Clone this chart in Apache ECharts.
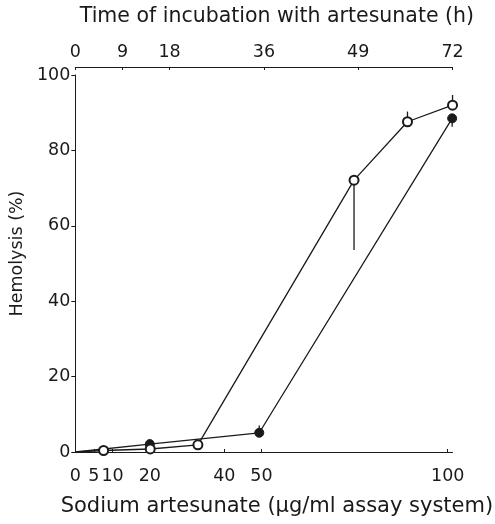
<!DOCTYPE html>
<html><head><meta charset="utf-8">
<script src="https://cdn.jsdelivr.net/npm/echarts@6/dist/echarts.min.js"></script>
<style>html,body{margin:0;padding:0;background:#fff}#c{width:495px;height:524px}</style>
</head><body><div id="c"></div>
<script>
// Bottom axis: sodium artesunate concentration (µg/ml)
var concTicks = [0, 5, 10, 20, 40, 50, 100];
// Top axis: time of incubation (h) — tick positions as drawn, with their printed labels
var timeTickValues = [0, 9, 18, 36, 54, 72];
var timeTickLabels = ['0', '9', '18', '36', '49', '72'];
var hemoTicks = [0, 20, 40, 60, 80, 100];

// Filled circles: hemolysis (%) vs concentration
var filledX = [0, 20, 49.4, 101.2];
var filledY = [0, 2.1, 5.1, 88.5];
// Open circles: hemolysis (%) vs incubation time
var openX = [0, 5.4, 14.3, 23.4, 53.2, 63.4, 72];
var openY = [0, 0.4, 0.8, 1.9, 72.1, 87.6, 92];
// Error bars [x, low, high]
var filledErr = [[49.4, 5.1, 7.0], [101.2, 86.3, 88.5]];
var openErr = [[53.2, 53.6, 72.1], [63.4, 87.6, 90.3], [72, 92, 94.7]];

var FONT = 'DejaVu Sans';
var ink = '#1a1a1a';

function pts(xs, ys) {
  return xs.map(function (x, i) {
    var d = { value: [x, ys[i]] };
    if (x === 0 && ys[i] === 0) d.symbol = 'none';
    return d;
  });
}
function errSeries(arr, axisIdx) {
  return {
    type: 'custom', xAxisIndex: axisIdx, z: 1, silent: true,
    data: arr,
    renderItem: function (params, api) {
      var a = api.coord([api.value(0), api.value(1)]);
      var b = api.coord([api.value(0), api.value(2)]);
      return { type: 'line', shape: { x1: a[0], y1: a[1], x2: b[0], y2: b[1] },
               style: { stroke: ink, lineWidth: 1.3 } };
    }
  };
}

var chart = echarts.init(document.getElementById('c'), null, { renderer: 'canvas' });
chart.setOption({
  animation: false,
  backgroundColor: '#fff',
  textStyle: { fontFamily: FONT, color: ink },
  grid: { left: 73, right: 42, top: 75, bottom: 72, containLabel: false },
  xAxis: [{
    type: 'value', position: 'bottom', min: 0, max: 101.3, offset: 11,
    axisLine: { show: true, lineStyle: { color: ink, width: 1 } },
    axisTick: { show: true, inside: true, length: 3, customValues: concTicks, lineStyle: { color: ink } },
    axisLabel: { customValues: concTicks, fontSize: 17.5, color: ink, margin: 4, fontFamily: FONT },
    splitLine: { show: false },
    name: 'Sodium artesunate (µg/ml assay system)', nameLocation: 'middle', nameGap: 33,
    nameTextStyle: { fontSize: 21, color: ink, fontFamily: FONT, padding: [0, 0, 0, 26] }
  }, {
    type: 'value', position: 'top', min: 0, max: 72, offset: 8,
    axisLine: { show: true, lineStyle: { color: ink, width: 1 } },
    axisTick: { show: true, inside: true, length: 3, customValues: timeTickValues, lineStyle: { color: ink } },
    axisLabel: { customValues: timeTickValues, fontSize: 17.5, color: ink, margin: 6, fontFamily: FONT,
      formatter: function (v) { var i = timeTickValues.indexOf(v); return i >= 0 ? timeTickLabels[i] : ''; } },
    splitLine: { show: false },
    name: 'Time of incubation with artesunate (h)', nameLocation: 'middle', nameGap: 40,
    nameTextStyle: { fontSize: 20.5, color: ink, fontFamily: FONT, padding: [0, 0, 0, 26] }
  }],
  yAxis: {
    type: 'value', min: 0, max: 100, interval: 20,
    axisLine: { show: true, lineStyle: { color: ink, width: 1 } },
    axisTick: { show: true, length: 4, customValues: hemoTicks, lineStyle: { color: ink } },
    axisLabel: { fontSize: 17.5, color: ink, margin: 5, fontFamily: FONT },
    splitLine: { show: false },
    name: 'Hemolysis (%)', nameLocation: 'middle', nameRotate: 90, nameGap: 41,
    nameTextStyle: { fontSize: 17.5, color: ink, fontFamily: FONT, padding: [0, 0, 0, 20] }
  },
  series: [
    errSeries(filledErr, 0),
    errSeries(openErr, 1),
    {
      type: 'line', xAxisIndex: 0, data: pts(filledX, filledY), z: 3,
      symbol: 'circle', symbolSize: 9,
      itemStyle: { color: ink, borderColor: ink, borderWidth: 1 },
      lineStyle: { color: ink, width: 1.3 }
    },
    {
      type: 'line', xAxisIndex: 1, data: pts(openX, openY), z: 4,
      symbol: 'circle', symbolSize: 9,
      itemStyle: { color: '#fff', borderColor: ink, borderWidth: 2 },
      lineStyle: { color: ink, width: 1.3 }
    }
  ]
});
</script></body></html>
